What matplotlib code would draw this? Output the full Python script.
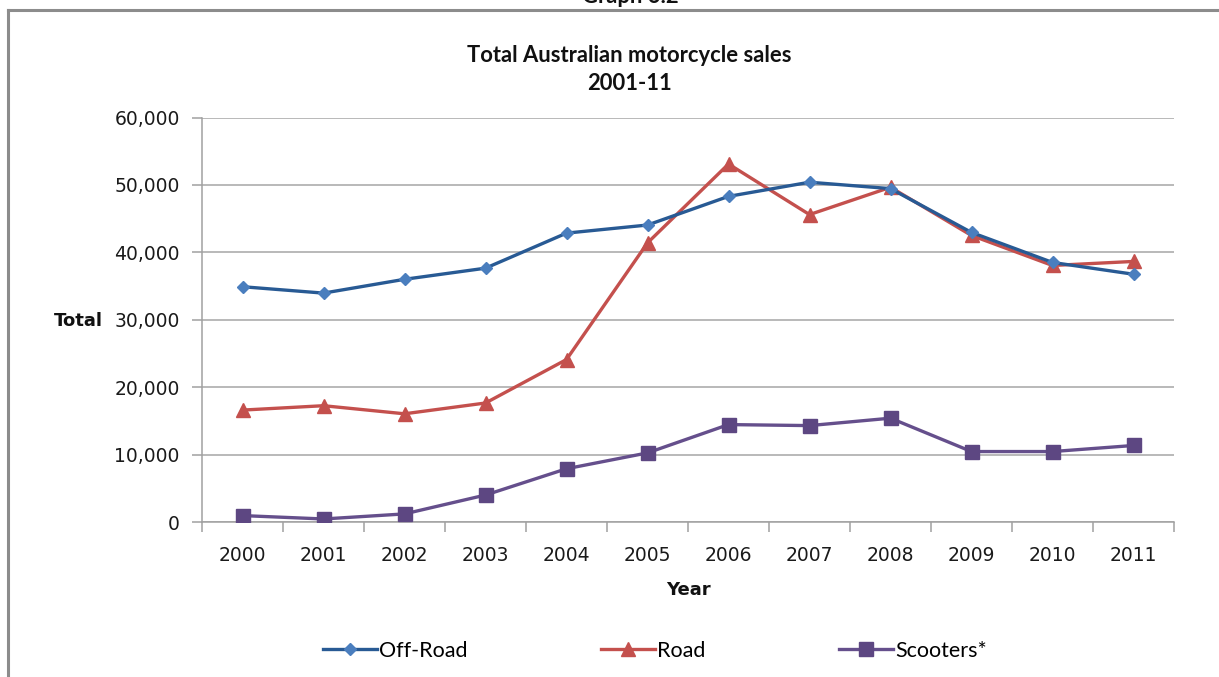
import matplotlib
matplotlib.use("Agg")
import matplotlib.pyplot as plt
from matplotlib.lines import Line2D
from matplotlib.ticker import FuncFormatter, FixedLocator

# Annual sales by segment
years = ["2000", "2001", "2002", "2003", "2004", "2005",
         "2006", "2007", "2008", "2009", "2010", "2011"]
off_road = [34900, 33950, 36000, 37650, 42850, 44050,
            48300, 50400, 49450, 42950, 38500, 36750]
road = [16600, 17250, 16050, 17650, 24100, 41400,
        53100, 45600, 49650, 42500, 38050, 38650]
scooters = [950, 450, 1200, 4000, 7900, 10250,
            14450, 14300, 15400, 10450, 10450, 11350]

W, H = 1219, 677
fig = plt.figure(figsize=(W / 100, H / 100), dpi=100)
fig.patch.set_facecolor("white")

ax = fig.add_axes([202 / W, 1 - 522 / H, (1174 - 202) / W, (522 - 117.5) / H])

x = list(range(len(years)))
ax.plot(x, off_road, color="#285A94", lw=2.4, marker="D", ms=6.2,
        mfc="#4A7EBE", mec="#4A7EBE", label="Off-Road", zorder=4)
ax.plot(x, road, color="#C4504D", lw=2.4, marker="^", ms=10,
        mfc="#C4504D", mec="#C4504D", label="Road", zorder=3)
ax.plot(x, scooters, color="#654F8C", lw=2.4, marker="s", ms=9.5,
        mfc="#5D4782", mec="#5D4782", label="Scooters*", zorder=3)

ax.set_xlim(-0.5, len(years) - 0.5)
ax.set_ylim(0, 60000)
ax.set_yticks(range(0, 60001, 10000))
ax.yaxis.set_major_formatter(FuncFormatter(lambda v, p: f"{int(v):,}"))
ax.grid(axis="y", color="#A6A6A6", lw=1.1)
ax.set_axisbelow(True)

ax.set_xticks(x)
ax.set_xticklabels(years)
ax.xaxis.set_minor_locator(FixedLocator([i - 0.5 for i in range(len(years) + 1)]))
ax.tick_params(axis="x", which="major", length=0, pad=17, labelsize=13.5, labelcolor="#1a1a1a")
ax.tick_params(axis="x", which="minor", length=7, width=1.1, color="#A0A0A0", direction="out")
ax.tick_params(axis="y", which="major", length=7, width=1.1, color="#A0A0A0",
               direction="out", pad=9, labelsize=13.5, labelcolor="#1a1a1a")

for side in ("top", "right"):
    ax.spines[side].set_visible(False)
for side in ("left", "bottom"):
    ax.spines[side].set_color("#A0A0A0")
    ax.spines[side].set_linewidth(1.1)

ax.set_xlabel("Year", fontsize=13, fontweight="bold", labelpad=12, color="#111111")
fig.text(103 / W, 1 - 321 / H, "Total", ha="right", va="center",
         fontsize=13, fontweight="bold", color="#111111")

# Titles
title_kw = dict(ha="center", fontsize=15.8, fontweight="bold", family="Lato", color="#111111")
fig.text(629 / W, 1 - 55 / H, "Total Australian motorcycle sales", va="center", **title_kw)
fig.text(629 / W, 1 - 84 / H, "2001-11", va="center", **title_kw)
fig.text(630 / W, 1 - 3 / H, "Graph 6.2", va="baseline", **title_kw)

# Chart frame (left and top edges)
frame_kw = dict(color="#8C8C8C", lw=2.2, transform=fig.transFigure)
fig.add_artist(Line2D([8 / W, 8 / W], [0, 1 - 10 / H], **frame_kw))
fig.add_artist(Line2D([8 / W, 1], [1 - 10 / H, 1 - 10 / H], **frame_kw))

# Legend
handles, labels = ax.get_legend_handles_labels()
fig.legend(handles, labels, loc="center", bbox_to_anchor=(655 / W, 1 - 651 / H),
           ncol=3, frameon=False, prop={"family": "Lato", "size": 15.5},
           handlelength=2.5, handletextpad=0.1, columnspacing=6.2)

fig.savefig("out.png", dpi=100, facecolor="white")
